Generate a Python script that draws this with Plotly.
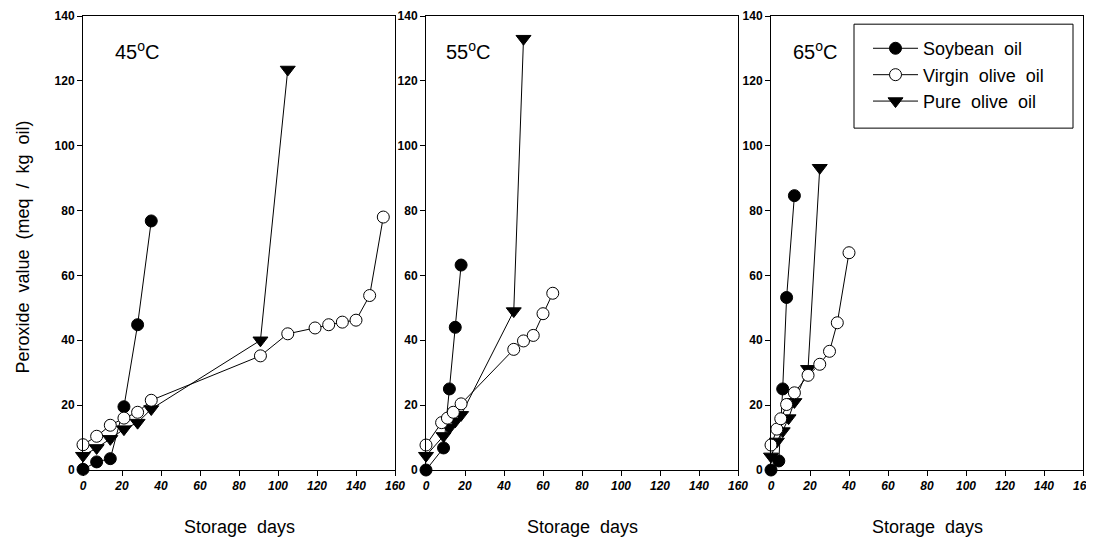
import plotly.graph_objects as go

# ---------------- data ----------------
# 45 C
soy45_x = [0, 7, 14, 21, 28, 35]
soy45_y = [0.2, 2.5, 3.5, 19.5, 44.8, 76.8]
vir45_x = [0, 7, 14, 21, 28, 35, 91, 105, 119, 126, 133, 140, 147, 154]
vir45_y = [7.8, 10.4, 13.8, 16.0, 17.8, 21.5, 35.2, 42.0, 43.8, 44.8, 45.6, 46.2, 53.8, 78.0]
pur45_x = [0, 7, 14, 21, 28, 35, 91, 105]
pur45_y = [4.4, 6.8, 9.6, 12.6, 14.6, 18.8, 40.0, 123.5]
# 55 C
soy55_x = [0, 9, 12, 15, 18]
soy55_y = [0.0, 6.8, 25.0, 44.0, 63.2]
vir55_x = [0, 8, 11, 14, 18, 45, 50, 55, 60, 65]
vir55_y = [7.7, 14.6, 16.0, 17.8, 20.4, 37.2, 39.8, 41.5, 48.2, 54.5]
pur55_x = [0, 9, 12, 15, 18, 45, 50]
pur55_y = [4.4, 10.5, 13.0, 15.0, 17.0, 49.0, 133.0]
# 65 C
soy65_x = [0, 4, 6, 8, 12]
soy65_y = [0.0, 2.8, 25.0, 53.2, 84.6]
vir65_x = [0, 3, 5, 8, 12, 19, 25, 30, 34, 40]
vir65_y = [7.7, 12.6, 15.8, 20.2, 23.8, 29.2, 32.6, 36.6, 45.4, 67.0]
pur65_x = [0, 3, 6, 9, 12, 19, 25]
pur65_y = [4.2, 8.8, 12.0, 16.0, 21.0, 31.2, 93.2]

panel_labels = ["45<sup>o</sup>C", "55<sup>o</sup>C", "65<sup>o</sup>C"]
series_names = ["Soybean\u00a0 oil", "Virgin\u00a0 olive\u00a0 oil", "Pure\u00a0 olive\u00a0 oil"]
x_title = "Storage\u00a0 days"
y_title = "Peroxide\u00a0 value\u00a0 (meq\u00a0 /\u00a0 kg\u00a0 oil)"

x_ticks = [0, 20, 40, 60, 80, 100, 120, 140, 160]
y_ticks = [0, 20, 40, 60, 80, 100, 120, 140]

panels = [
    (soy45_x, soy45_y, vir45_x, vir45_y, pur45_x, pur45_y),
    (soy55_x, soy55_y, vir55_x, vir55_y, pur55_x, pur55_y),
    (soy65_x, soy65_y, vir65_x, vir65_y, pur65_x, pur65_y),
]
label_x = [15.5, 9.0, 10.0]

FONT = "Arial, Liberation Sans, sans-serif"

fig = go.Figure()

domains = [[0.0, 0.312], [0.343, 0.655], [0.688, 1.0]]

for i, (sx, sy, vx, vy, px, py) in enumerate(panels):
    xa = "x" if i == 0 else f"x{i+1}"
    ya = "y" if i == 0 else f"y{i+1}"
    show = (i == 2)
    fig.add_trace(go.Scatter(
        x=px, y=py, xaxis=xa, yaxis=ya, mode="lines+markers", name=series_names[2],
        line=dict(color="black", width=1),
        marker=dict(symbol="triangle-down", size=13, color="black", line=dict(color="black", width=1)),
        cliponaxis=False, showlegend=False, legendrank=3))
    fig.add_trace(go.Scatter(
        x=sx, y=sy, xaxis=xa, yaxis=ya, mode="lines+markers", name=series_names[0],
        line=dict(color="black", width=1),
        marker=dict(symbol="circle", size=12, color="black", line=dict(color="black", width=1)),
        cliponaxis=False, showlegend=show, legendrank=1))
    fig.add_trace(go.Scatter(
        x=vx, y=vy, xaxis=xa, yaxis=ya, mode="lines+markers", name=series_names[1],
        line=dict(color="black", width=1),
        marker=dict(symbol="circle", size=12, color="white", line=dict(color="black", width=1)),
        cliponaxis=False, showlegend=show, legendrank=2))
    if show:
        fig.add_trace(go.Scatter(
            x=[None], y=[None], xaxis=xa, yaxis=ya, mode="lines+markers", name=series_names[2],
            line=dict(color="black", width=1),
            marker=dict(symbol="triangle-down", size=13, color="black", line=dict(color="black", width=1)),
            showlegend=True, legendrank=3))

    axis_common = dict(showline=True, linecolor="black", linewidth=1, mirror=True,
                       ticks="outside", ticklen=5, tickcolor="black", showgrid=False,
                       zeroline=False, automargin=False)
    fig.update_layout(**{
        ("xaxis" if i == 0 else f"xaxis{i+1}"): dict(
            domain=domains[i], anchor=ya, range=[0, 160], tickvals=x_ticks,
            ticktext=[str(t) for t in x_ticks],
            tickfont=dict(family=FONT, size=12, color="black", weight="bold", style="italic"),
            **axis_common),
        ("yaxis" if i == 0 else f"yaxis{i+1}"): dict(
            domain=[0, 1], anchor=xa, range=[0, 140], tickvals=y_ticks,
            ticktext=[str(t) for t in y_ticks],
            tickfont=dict(family=FONT, size=12, color="black", weight="bold"),
            **axis_common),
    })
    fig.add_annotation(x=label_x[i], y=129.5, xref=xa, yref=ya, text=panel_labels[i],
                       showarrow=False, xanchor="left", yanchor="middle",
                       font=dict(family=FONT, size=20, color="black"))
    fig.add_annotation(x=sum(domains[i]) / 2, y=-0.125, xref="paper", yref="paper",
                       text=x_title, showarrow=False, xanchor="center", yanchor="middle",
                       font=dict(family=FONT, size=18, color="black"))

fig.add_annotation(x=-0.06, y=0.49, xref="paper", yref="paper",
                   text=y_title, textangle=-90, showarrow=False,
                   xanchor="center", yanchor="middle",
                   font=dict(family=FONT, size=18, color="black"))

# legend frame
fig.add_shape(type="rect", xref="paper", yref="paper",
              x0=0.771, x1=0.990, y0=0.753, y1=0.982,
              line=dict(color="black", width=1), fillcolor="white", layer="below")

# The page body has an 8px margin, so the figure is sized/offset to compensate.
fig.update_layout(
    width=1086, height=532,
    margin=dict(l=75, r=11, t=8, b=70, autoexpand=False),
    paper_bgcolor="white", plot_bgcolor="white",
    showlegend=True,
    legend=dict(x=0.785, y=0.969, xanchor="left", yanchor="top",
                bgcolor="rgba(0,0,0,0)", borderwidth=0,
                font=dict(family=FONT, size=18, color="black"),
                itemwidth=45, traceorder="normal"),
)

fig.write_html("out.html")
